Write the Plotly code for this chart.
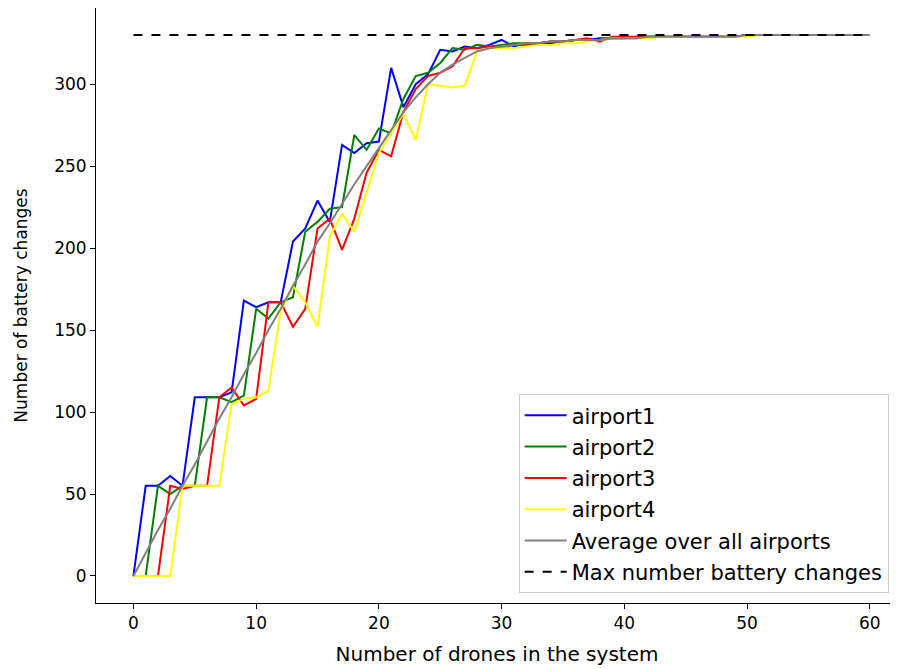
import plotly.graph_objects as go

drones = list(range(0, 61))

airport1 = [0, 55, 55, 61, 55, 109, 109, 109, 112, 168,
            164, 167, 167, 204, 212, 229, 216, 263, 258, 264,
            265, 310, 286, 300, 306, 321, 320, 323, 322, 324,
            327, 323, 325, 324, 325, 326, 327, 327, 328, 328,
            328, 329, 329, 329, 329, 329, 329, 329, 329, 329,
            330, 330, 330, 330, 330, 330, 330, 330, 330, 330, 330]

airport2 = [0, 0, 55, 50, 55, 55, 109, 109, 106, 110,
            163, 157, 167, 170, 210, 216, 224, 225, 269, 260,
            273, 270, 291, 305, 307, 313, 322, 321, 324, 323,
            324, 325, 325, 325, 326, 326, 327, 327, 327, 328,
            328, 328, 329, 329, 329, 329, 329, 329, 329, 329,
            330, 330, 330, 330, 330, 330, 330, 330, 330, 330, 330]

airport3 = [0, 0, 0, 55, 53, 55, 55, 109, 115, 104,
            108, 167, 167, 152, 163, 212, 218, 199, 218, 246,
            260, 256, 283, 297, 305, 307, 311, 322, 322, 323,
            322, 324, 324, 325, 326, 326, 327, 328, 326, 329,
            329, 329, 329, 329, 329, 329, 329, 329, 329, 329,
            330, 330, 330, 330, 330, 330, 330, 330, 330, 330, 330]

airport4 = [0, 0, 0, 0, 55, 55, 55, 55, 105, 108,
            109, 113, 162, 177, 167, 152, 207, 221, 210, 234,
            258, 270, 282, 266, 300, 299, 298, 299, 320, 322,
            322, 322, 323, 324, 324, 325, 325, 326, 327, 328,
            328, 328, 328, 329, 329, 329, 329, 329, 329, 329,
            329, 330, 330, 330, 330, 330, 330, 330, 330, 330, 330]

average = [0, 14, 28, 41, 55, 68, 82, 96, 109, 123,
           136, 150, 163, 177, 190, 204, 215, 227, 239, 250,
           261, 272, 283, 292, 300, 307, 312, 316, 320, 322,
           323, 324, 325, 325, 326, 326, 327, 327, 327, 328,
           328, 328, 329, 329, 329, 329, 329, 329, 329, 329,
           330, 330, 330, 330, 330, 330, 330, 330, 330, 330, 330]

max_changes = [330] * len(drones)

x_ticks = [0, 10, 20, 30, 40, 50, 60]
y_ticks = [0, 50, 100, 150, 200, 250, 300]

series = [
    ("airport1", airport1, "#0000ff", "solid"),
    ("airport2", airport2, "#008000", "solid"),
    ("airport3", airport3, "#ff0000", "solid"),
    ("airport4", airport4, "#ffff00", "solid"),
    ("Average over all airports", average, "#808080", "solid"),
    ("Max number battery changes", max_changes, "#000000", "dash"),
]

fig = go.Figure()
for i, (name, vals, color, dash) in enumerate(series):
    fig.add_trace(go.Scatter(
        x=drones, y=vals, mode="lines", name=name, legendgroup=f"g{i}",
        line=dict(color=color, width=2, dash=dash),
    ))

font = "DejaVu Sans, sans-serif"
fig.update_layout(
    width=890, height=661,
    margin=dict(l=88, r=0, t=0, b=66),
    paper_bgcolor="white", plot_bgcolor="white",
    font=dict(family=font, size=17, color="black"),
    showlegend=True,
    legend=dict(
        x=0.527, y=0.351, xanchor="left", yanchor="top",
        bgcolor="white", bordercolor="#cccccc", borderwidth=1,
        font=dict(size=21), tracegroupgap=1, itemwidth=42,
    ),
    xaxis=dict(
        range=[-3.05, 62.3], tickvals=x_ticks, showgrid=False, zeroline=False,
        showline=True, mirror=True, linecolor="black", linewidth=1,
        ticks="outside", ticklen=5, tickcolor="black",
        title=dict(text="Number of drones in the system", standoff=14),
    ),
    yaxis=dict(
        range=[-16.5, 346.5], tickvals=y_ticks, showgrid=False, zeroline=False,
        showline=True, mirror=True, linecolor="black", linewidth=1,
        ticks="outside", ticklen=5, tickcolor="black",
        title=dict(text="Number of battery changes", standoff=22, font=dict(size=17)),
    ),
)

fig.write_html("out.html")
